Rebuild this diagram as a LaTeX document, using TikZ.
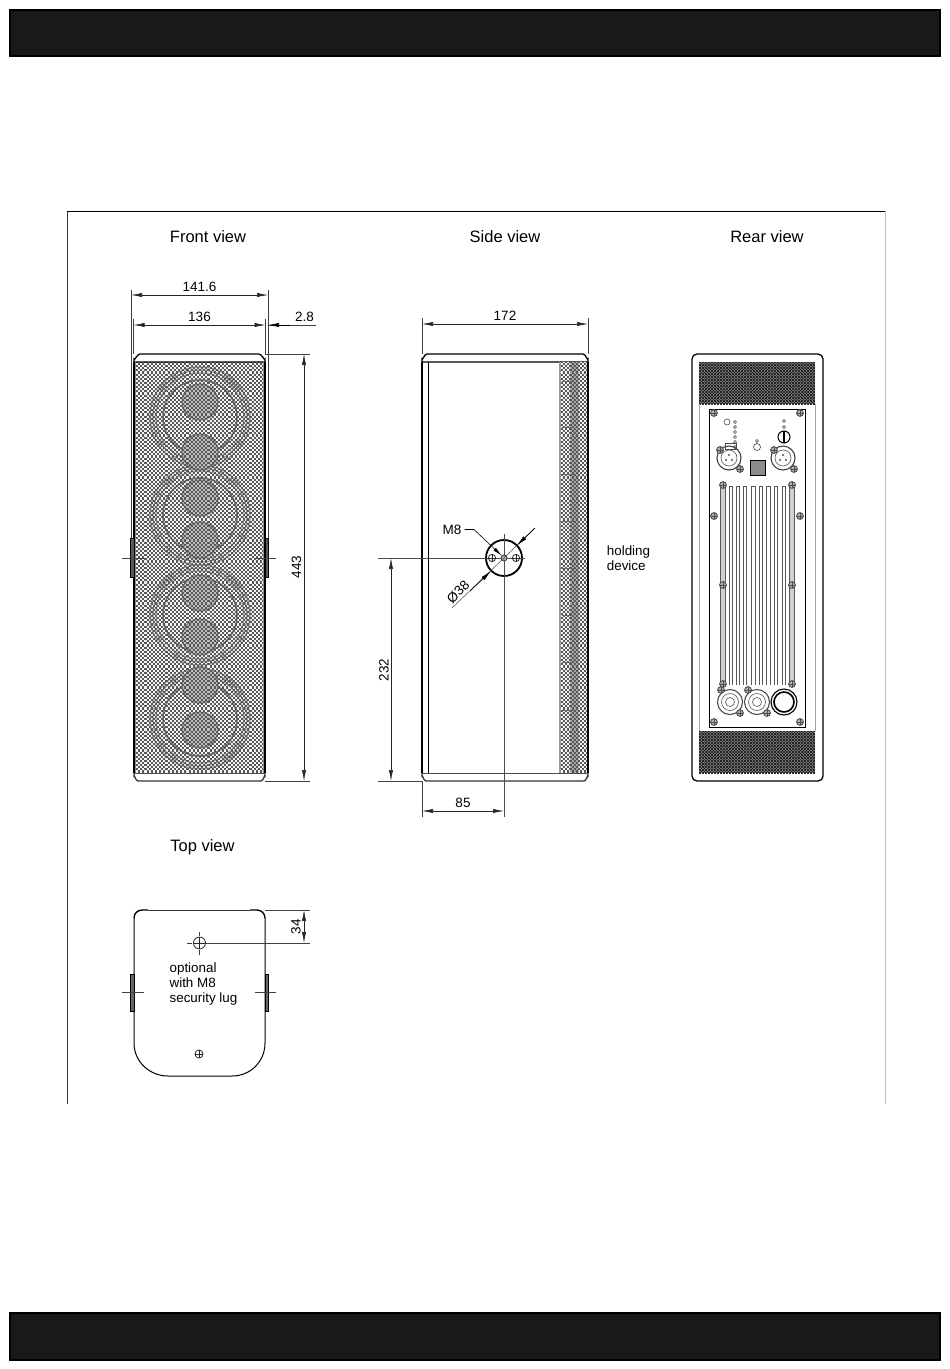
\documentclass[tikz,border=0pt]{standalone}
\usepackage{fontspec}
\setmainfont{Liberation Sans}
\usetikzlibrary{arrows.meta}
\definecolor{meshc}{HTML}{585858}
\tikzset{
  x=1pt,y=-1pt,
  tipd/.tip={Latex[length=11pt,width=4.2pt]},
  dim/.style={line width=0.6pt,tipd-tipd,black!85},
  ext/.style={line width=0.5pt,black!75},
  outl/.style={line width=1.3pt,black},
  viewlabel/.style={font=\fontsize{16.5}{18}\selectfont,inner sep=0pt},
  dimlabel/.style={font=\fontsize{13.5}{15.5}\selectfont,inner sep=0pt,text=black},
  note/.style={font=\fontsize{13.4}{15}\selectfont,inner sep=0pt,align=left,text=black},
}
% x1 y1 x2 y2 colour square-size
\newcommand\meshrect[6]{%
  \begin{scope}
    \clip (#1,#2) rectangle (#3,#4);
    \pgfmathsetmacro\ma{#2+#6}\pgfmathsetmacro\mb{#2+2*#6}\pgfmathsetmacro\mc{#2+3*#6}
    \foreach \yy in {#2,\mb,...,#4}
      \draw[#5,line width=#6 pt+0.05pt,dash pattern=on #6 pt off #6 pt] (#1,\yy) -- (#3,\yy);
    \foreach \yy in {\ma,\mc,...,#4}
      \draw[#5,line width=#6 pt+0.05pt,dash pattern=on #6 pt off #6 pt,dash phase=#6 pt] (#1,\yy) -- (#3,\yy);
  \end{scope}}
\newcommand\screw[3]{%
  \draw[line width=0.8pt,black!85,fill=white] (#1,#2) circle (#3);
  \draw[line width=0.7pt,black!85] (#1-#3,#2) -- (#1+#3,#2) (#1,#2-#3) -- (#1,#2+#3);}
\newcommand\rscrew[2]{%
  \draw[line width=0.9pt,black!70,fill=black!30] (#1,#2) circle (3.4);
  \draw[line width=0.5pt,black!70] (#1-3,#2) -- (#1+3,#2) (#1,#2-3) -- (#1,#2+3);}
\newcommand\driver[1]{%
  \foreach \rr/\ww/\cc in {50/1.4/black!40,47/1.2/black!45,44/1.2/black!40,37/1.6/black!55}
    \draw[line width=\ww pt,\cc] (200,#1) circle (\rr);}
\newcommand\cone[1]{%
  \fill[black!25] (200,#1) circle (18);
  \draw[line width=1.2pt,black!55] (200,#1) circle (18);}
\begin{document}
\begin{tikzpicture}
\useasboundingbox (0,0) rectangle (950,1369);
\fill[white] (0,0) rectangle (950,1369);
% bars
\draw[line width=1.4pt,black,fill=black!90] (10,10) rectangle (940,56);
\draw[line width=1.4pt,black,fill=black!90] (10,1313) rectangle (940,1360);
% frame
\draw[line width=0.8pt,black!80] (67,1104) -- (67,211);
\draw[line width=0.9pt,black] (67,211) -- (885,211);
\draw[line width=0.6pt,black!25] (885,211) -- (885,1104);
% labels
\node[viewlabel] (lf) at (208,236.5) {Front view};
\node[viewlabel] (ls) at (505,236.5) {Side view};
\node[viewlabel] (lr) at (767,236.5) {Rear view};
\node[viewlabel] (lt) at (202.5,847.5) {Top view};

% ---------- front view ----------
\fill[black!4] (136,362) rectangle (263,773);
\begin{scope}
\clip (136,362) rectangle (263,773);
\driver{417}\driver{515}\driver{615}\driver{719}
\foreach \yy in {402,452,498,540,593,637,685,730} {\cone{\yy}}
\end{scope}
\meshrect{136}{362}{263}{773}{meshc}{2.1}
\draw[outl] (134,362) -- (134,359) to[out=-90,in=180] (140,354) -- (259,354) to[out=0,in=-90] (265,359) -- (265,362) -- cycle;
\draw[outl,line width=1pt,black!70] (134,773) -- (265,773);
\draw[outl,black!80] (134,773) -- (134,776) to[out=90,in=180] (138,781) -- (261,781) to[out=0,in=90] (265,776) -- (265,773);
\draw[line width=1.1pt,black] (134,362) -- (134,773) (265,362) -- (265,773);
\draw[line width=1.6pt,black!45] (135.6,362) -- (135.6,773) (263.6,362) -- (263.6,773);
\fill[black!65,draw=black,line width=0.5pt] (130.5,538) rectangle (134,577);
\fill[black!65,draw=black,line width=0.5pt] (265,538) rectangle (268.5,577);
\draw[ext] (122,558) -- (145,558) (255,558) -- (276,558);
% front dims
\draw[ext] (131,290) -- (131,538) (268,290) -- (268,538);
\draw[ext] (133.5,319) -- (133.5,354) (265.5,319) -- (265.5,354);
\draw[dim] (131,295) -- (268,295);
\draw[dim] (133.5,325) -- (265.5,325);
\draw[ext] (268,325) -- (316,325);
\draw[line width=0.6pt,-tipd] (290,325) -- (268,325);
\draw[ext] (265,354) -- (310,354) (265,781) -- (310,781);
\draw[dim] (304,354) -- (304,781);
\node[dimlabel] (d1416) at (199.5,286.5) {141.6};
\node[dimlabel] (d136) at (199.5,316.5) {136};
\node[dimlabel] (d28) at (304.5,316.5) {2.8};
\node[dimlabel,rotate=90] (d443) at (296.5,567) {443};

% ---------- side view ----------
\draw[outl] (422,362) -- (422,359) to[out=-90,in=180] (427,354) -- (583,354) to[out=0,in=-90] (588,359) -- (588,362) -- cycle;
\draw[outl,line width=1pt,black!70] (422,773) -- (588,773);
\draw[outl,black!80] (422,773) -- (422,776) to[out=90,in=180] (426,781) -- (584,781) to[out=0,in=90] (588,776) -- (588,773);
\draw[outl] (422,362) -- (422,773);
\draw[line width=0.8pt,black] (428,362) -- (428,773);
\fill[black!4] (561,362) rectangle (588,773);
\fill[black!35] (570,362) rectangle (579,773);
\meshrect{561}{362}{588}{773}{meshc}{2.1}
\draw[line width=2pt,black!40] (560,362) -- (560,773);
\draw[line width=1.1pt,black] (588,362) -- (588,773);
\foreach \yy in {381,427,474,521,568,615,662,710}
  \draw[line width=0.6pt,black!60] (562,\yy) -- (574,\yy);
% mount
\draw[line width=1.8pt,black,fill=white] (504,558) circle (18);
\draw[line width=0.5pt,black!70] (378,558) -- (525,558);
\draw[line width=0.5pt,black!70] (504,534) -- (504,817);
\screw{492}{558}{3.6}
\screw{516}{558}{3.6}
\draw[line width=0.7pt,black!80,fill=black!35] (504,558) circle (3);
\draw[line width=0.5pt,black!70] (452,608) -- (535,528);
\draw[line width=0.7pt,-tipd] (535,528) -- (516.8,545.5);
\draw[line width=0.7pt,-tipd] (470,591) -- (491,571);
% M8 leader
\node[dimlabel] (m8) at (452,529.5) {M8};
\draw[line width=0.6pt,-{Latex[length=10pt,width=3.6pt]}] (m8.east) ++(3,0) -- (474,529.5) -- (502,556);
\node[dimlabel,rotate=45] (phi) at (458,592) {Ø38};
\node[note] (hold) at (628.5,558.5) {holding\\device};
% side dims
\draw[ext] (422,318) -- (422,354) (588,318) -- (588,354);
\draw[dim] (422,324) -- (588,324);
\node[dimlabel] (d172) at (505,316) {172};
\draw[ext] (378,781) -- (422,781);
\draw[dim] (391,558) -- (391,781);
\node[dimlabel,rotate=90] (d232) at (384,670) {232};
\draw[ext] (422,781) -- (422,817);
\draw[dim] (422,811) -- (504,811);
\node[dimlabel] (d85) at (463,803) {85};

% ---------- rear view ----------
\draw[line width=1.3pt,black,rounded corners=5pt] (692,354) rectangle (823,781);
\fill[black!55] (699,362) rectangle (815,404);
\fill[black!55] (699,731) rectangle (815,773);
\meshrect{699}{362}{815}{404}{black!85}{1.5}
\meshrect{699}{731}{815}{773}{black!85}{1.5}
\draw[line width=0.6pt,black!35] (699,404) -- (699,731) (815,404) -- (815,731);
\draw[line width=0.9pt,black] (709.5,409) rectangle (805,727);
% fins
\fill[black!18] (720.5,486) rectangle (725,685);
\fill[black!18] (789.5,486) rectangle (794,685);
\foreach \xa/\xb in {720.5/725,729/732,736/739,743.5/746.5,751.5/755,759/762,766.5/770,774/777,782/785,789.5/794}
  \draw[line width=0.8pt,black!65] (\xa,685) -- (\xa,486) -- (\xb,486) -- (\xb,685);
\foreach \xx/\yy in {714/413,800/413,714/516,800/516,714/722,800/722,723/485,792/485,723/585,792/585,723/684,792/684}
  {\rscrew{\xx}{\yy}}
% xlr
\foreach \cx in {729,783}{
  \draw[line width=1.1pt,black!75,fill=white] (\cx,458) circle (12);
  \draw[line width=0.7pt,black!60] (\cx,458) circle (8);
  \foreach \px/\py in {-3/2,3/2,0/-3} \fill[black!70] (\cx+\px,458+\py) circle (1.1);
  \rscrew{\cx-9}{450}
  \rscrew{\cx+11}{469}
}
\draw[line width=0.7pt,black!70] (725,449) rectangle (736,443);
% switch
\draw[line width=0.9pt,black,fill=black!45] (750.5,460) rectangle (765,475);
% pot and LEDs
\draw[line width=1pt,black,fill=white] (784,437) circle (6);
\draw[line width=1.5pt,black] (784,431) -- (784,443);
\draw[line width=0.6pt,black!70] (727,422) circle (3);
\foreach \yy in {422,427,432,437,442,447}
  \draw[line width=0.6pt,black!75] (735,\yy) circle (1.5);
\foreach \yy in {421,427}
  \draw[line width=0.6pt,black!75] (784,\yy) circle (1.5);
\draw[line width=0.6pt,black!75] (757,441) circle (1.5);
\draw[line width=0.6pt,black!75] (757,447) circle (3.5);
% speakon
\foreach \cx in {730,757}{
  \draw[line width=1.1pt,black!70,fill=white] (\cx,702) circle (12.5);
  \draw[line width=0.7pt,black!60] (\cx,702) circle (8.5);
  \draw[line width=0.7pt,black!60] (\cx,702) circle (4.5);
  \rscrew{\cx-9}{690}
  \rscrew{\cx+10}{713}
}
\draw[line width=1.1pt,black,fill=white] (784,702) circle (13);
\draw[line width=1.6pt,black] (784,702) circle (10);

% ---------- top view ----------
\draw[line width=0.6pt,black!80] (148,910) -- (250,910);
\draw[line width=1.4pt,black] (148,910) -- (142,910) to[out=180,in=90] (134,918);
\draw[line width=1.4pt,black] (250,910) -- (257,910) to[out=0,in=90] (265,918);
\draw[line width=1pt,black] (134,918) -- (134,1043) .. controls (134,1062) and (150,1076) .. (168,1076) -- (232,1076) .. controls (250,1076) and (265,1062) .. (265,1043) -- (265,918);
\fill[black!60,draw=black,line width=0.5pt] (130.5,974) rectangle (134,1011);
\fill[black!60,draw=black,line width=0.5pt] (265,974) rectangle (268.5,1011);
\draw[ext] (122,992) -- (144,992) (255,992) -- (276,992);
\draw[ext] (187,943) -- (192,943) (199,932) -- (199,936) (199,950) -- (199,955);
\screw{199.5}{943}{6}
\screw{199}{1054}{4}
\draw[ext] (206,943) -- (310,943) (265,910) -- (310,910);
\draw[line width=0.6pt,black!85,tipd-tipd] (304,910) -- (304,943);
\node[dimlabel,rotate=90] (d34) at (296,926.5) {34};
\node[note] (opt) at (203.5,984.5) {optional\\with M8\\security lug};
\end{tikzpicture}
\end{document}
